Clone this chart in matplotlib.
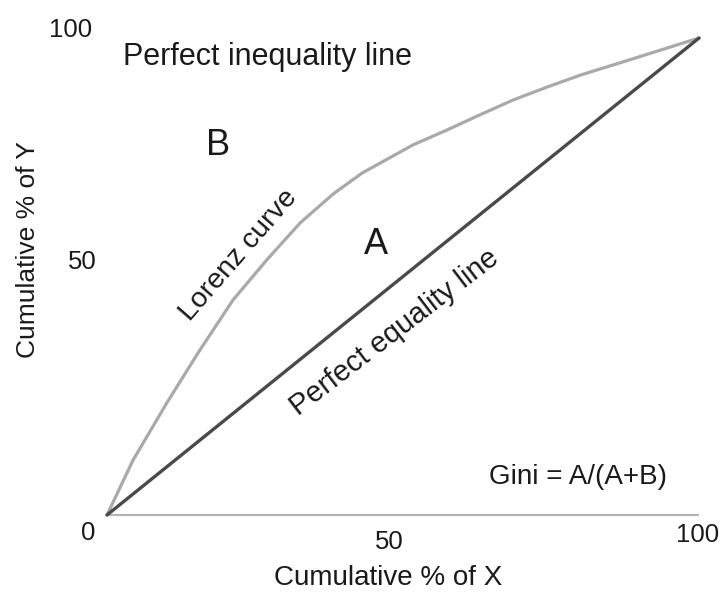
import numpy as np
import matplotlib
matplotlib.use("Agg")
import matplotlib.pyplot as plt

plt.rcParams['font.family'] = ['Liberation Sans', 'DejaVu Sans']

# Lorenz curve (cumulative % of X vs cumulative % of Y)
lorenz_x = [0, 4.4, 10.1, 15.7, 21.3, 27.0, 32.6, 38.2, 43.1, 51.7, 57.4, 63.0, 68.6, 74.3, 79.9, 88.2, 100]
lorenz_y = [0, 11.5, 23.5, 34.6, 45.1, 53.5, 61.2, 67.3, 71.7, 77.6, 80.7, 83.9, 87.0, 89.7, 92.2, 95.4, 100]

equality_x = [0, 100]
equality_y = [0, 100]

x_ticks = [0, 50, 100]
x_tick_labels = ["0", "50", "100"]
y_ticks = [50, 100]
y_tick_labels = ["50", "100"]

fig = plt.figure(figsize=(7.24, 5.94), dpi=100)
ax = fig.add_axes([0.1478, 0.133, 0.8177, 0.803])
ax.set_xlim(0, 100)
ax.set_ylim(0, 100)
ax.set_axis_off()

# x axis line
ax.plot([0, 100], [0, 0], color='#b4b4b4', lw=1.6, solid_capstyle='butt', clip_on=False)

ax.plot(lorenz_x, lorenz_y, color='#a9a9a9', lw=2.3, solid_joinstyle='round',
        solid_capstyle='round', clip_on=False)
ax.plot(equality_x, equality_y, color='#4a4a4a', lw=2.4, solid_capstyle='round', clip_on=False)

txt = '#1a1a1a'

# tick labels
ax.text(-3.2, -3.8, x_tick_labels[0], ha='center', va='center', fontsize=18.5, color=txt)
for xv, lab in zip(x_ticks[1:], x_tick_labels[1:]):
    dx = -2.4 if xv == 50 else -0.3
    dy = -5.7 if xv == 50 else -4.2
    ax.text(xv + dx, dy, lab, ha='center', va='center', fontsize=18.5, color=txt)
ax.text(-1.7, y_ticks[0] + 3.0, y_tick_labels[0], ha='right', va='center', fontsize=18.5, color=txt)
ax.text(-2.5, y_ticks[1] + 1.7, y_tick_labels[1], ha='right', va='center', fontsize=18.5, color=txt)

# axis labels
ax.text(47.5, -10.4, "Cumulative % of X", ha='center', va='top', fontsize=20, color=txt, clip_on=False)
ax.text(-13.4, 55.6, "Cumulative % of Y", ha='center', va='center', rotation=90,
        fontsize=19, color=txt, clip_on=False)

# annotations
ax.text(2.7, 94.3, "Perfect inequality line", ha='left', va='baseline', fontsize=22, color=txt)
ax.text(18.7, 77.4, "B", ha='center', va='center', fontsize=26, color=txt)
ax.text(45.4, 56.8, "A", ha='center', va='center', fontsize=26, color=txt)
ax.text(22.3, 54.5, "Lorenz curve", ha='center', va='center', rotation=49, fontsize=20.5, color=txt)
ax.text(48.6, 38.2, "Perfect equality line", ha='center', va='center', rotation=37.5,
        fontsize=21, color=txt)
ax.text(79.6, 8.0, "Gini = A/(A+B)", ha='center', va='center', fontsize=20, color=txt)

fig.savefig("out.png", dpi=100)
